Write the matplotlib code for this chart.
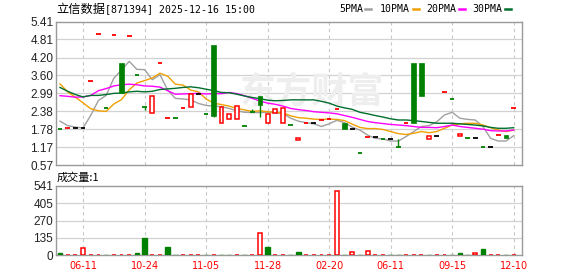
import matplotlib
matplotlib.use('Agg')
import matplotlib.pyplot as plt
from matplotlib.lines import Line2D

# ---------------- data ----------------
opens  = [1.78,1.82,1.82,1.82,3.41,5.01,2.49,4.95,4.03,4.93,
          3.60,2.52,2.32,4.03,2.16,2.16,2.49,2.52,2.96,2.29,
          4.62,1.98,2.12,2.11,1.88,2.37,2.90,1.99,2.33,2.00,
          1.91,1.42,1.98,1.98,2.08,2.12,2.46,1.98,1.79,0.96,
          1.52,1.52,1.46,1.46,1.18,1.98,4.03,4.03,1.46,1.55,
          3.04,2.79,1.55,1.47,1.47,1.17,1.17,1.57,1.58,2.50]
highs  = [1.78,1.82,1.82,1.82,3.41,5.01,2.49,4.95,4.03,4.93,
          3.60,2.52,2.89,4.03,2.16,2.16,2.49,2.96,2.96,2.29,
          4.62,2.52,2.28,2.55,1.88,2.47,2.90,2.30,2.46,2.50,
          1.91,1.48,1.98,1.98,2.08,2.12,2.46,1.98,1.79,0.96,
          1.52,1.52,1.46,1.46,1.45,1.98,4.03,4.03,1.55,1.55,
          3.04,2.79,1.61,1.47,1.47,1.17,1.17,1.57,1.58,2.50]
lows   = [1.78,1.82,1.82,1.82,3.41,5.01,2.49,4.95,2.99,4.93,
          3.60,2.44,2.32,4.03,2.16,2.16,2.49,2.52,2.96,2.29,
          2.20,1.98,2.12,2.11,1.88,2.35,2.20,1.99,2.33,2.00,
          1.91,1.42,1.98,1.98,2.08,2.12,2.46,1.80,1.79,0.96,
          1.52,1.52,1.46,1.46,1.18,1.98,2.00,2.91,1.46,1.55,
          3.04,2.79,1.55,1.47,1.47,1.17,1.17,1.57,1.49,2.50]
closes = [1.78,1.82,1.82,1.82,3.41,5.01,2.49,4.95,2.99,4.93,
          3.60,2.52,2.89,4.03,2.16,2.16,2.49,2.96,2.96,2.29,
          2.24,2.52,2.28,2.55,1.88,2.37,2.61,2.30,2.46,2.50,
          1.91,1.48,1.98,1.98,2.08,2.12,2.46,1.80,1.79,0.96,
          1.52,1.52,1.46,1.46,1.18,1.98,2.00,2.91,1.55,1.55,
          3.04,2.79,1.61,1.47,1.47,1.17,1.17,1.57,1.49,2.50]
# candle direction: 'r' up, 'g' down, 'k' unchanged
cdir = list("grkkrrgrgr" "ggrrrgrrkg" "grrrgggrrr" "grrkrrrgkg" "rkgkgrggrk" "rgrgkgkrgr")

volume = [16,2,2,52,2,2,2,2,2,2,
          16,133,2,2,63,2,2,2,2,2,
          2,2,2,2,2,2,170,63,2,2,
          2,23,2,2,2,2,502,2,21,2,
          31,2,2,2,2,2,2,2,2,2,
          2,2,16,2,16,50,2,2,2,1]
vdir = list("grrrrrgrrr" "ggrrggrrrg" "rggrgrrgrr" "ggrrrrrgrg" "rrrggrrrgr" "rgggrgrrgr")

ma5  = [2.05,1.90,1.85,1.82,2.25,2.75,2.92,3.50,3.78,4.07,
        3.80,3.79,3.45,3.62,3.10,2.82,2.80,2.77,2.65,2.58,
        2.56,2.54,2.48,2.40,2.35,2.34,2.34,2.35,2.33,2.31,
        2.15,2.05,2.00,1.96,1.87,1.96,2.08,2.00,1.85,1.75,
        1.58,1.47,1.45,1.38,1.38,1.53,1.70,1.87,1.90,2.03,
        2.26,2.35,2.15,2.11,2.09,1.87,1.47,1.38,1.38,1.56]
ma10 = [3.31,3.04,2.86,2.67,2.47,2.40,2.38,2.63,2.78,3.11,
        3.34,3.42,3.51,3.67,3.57,3.30,3.27,3.10,3.04,2.80,
        2.66,2.61,2.56,2.48,2.43,2.38,2.40,2.37,2.35,2.33,
        2.23,2.17,2.15,2.12,2.11,2.12,2.11,2.07,1.95,1.84,
        1.80,1.80,1.77,1.70,1.63,1.60,1.64,1.70,1.66,1.70,
        1.81,1.92,1.96,1.98,1.98,1.92,1.83,1.75,1.70,1.75]
ma20 = [2.91,2.89,2.86,2.87,2.92,3.08,3.15,3.24,3.28,3.30,
        3.28,3.24,3.23,3.20,3.08,2.96,2.97,2.98,2.99,2.97,
        2.98,2.98,3.02,2.98,2.91,2.82,2.73,2.66,2.62,2.56,
        2.48,2.44,2.41,2.37,2.35,2.33,2.30,2.24,2.18,2.11,
        2.04,2.00,1.97,1.94,1.92,1.90,1.87,1.84,1.84,1.83,
        1.87,1.92,1.87,1.84,1.81,1.78,1.73,1.72,1.72,1.75]
ma30 = [3.19,3.06,2.95,2.87,2.92,2.92,2.95,2.99,3.00,3.04,
        3.06,3.04,3.06,3.12,3.14,3.16,3.19,3.21,3.18,3.13,
        3.08,3.02,3.01,2.96,2.90,2.85,2.81,2.76,2.74,2.75,
        2.77,2.77,2.77,2.77,2.72,2.66,2.56,2.50,2.45,2.35,
        2.30,2.24,2.19,2.13,2.09,2.09,2.07,2.04,2.01,1.98,
        1.98,1.98,1.96,1.94,1.92,1.89,1.84,1.81,1.81,1.83]

tick_idx = [3, 11, 19, 27, 35, 43, 51, 59]
tick_labels = ['06-11', '10-24', '11-05', '11-28', '02-20', '06-11', '09-15', '12-10']
price_ticks = [0.57, 1.17, 1.78, 2.38, 2.99, 3.60, 4.20, 4.81, 5.41]
price_tick_labels = ['0.57', '1.17', '1.78', '2.38', '2.99', '3.60', '4.20', '4.81', '5.41']
vol_ticks = [0, 135, 270, 405, 541]

title_cn = '立信数据'
title_rest = '[871394] 2025-12-16 15:00'
vol_title = '成交量:1'
legend_names = ['5PMA', '10PMA', '20PMA', '30PMA']
watermark = '东方财富'

# ---------------- style ----------------
W, H = 578, 276
RED = '#ff0000'
GREEN = '#008000'
BLACK = '#000000'
cmap = {'r': RED, 'g': GREEN, 'k': BLACK}
ma_colors = ['#a0a0a0', '#f0a000', '#ff00ff', '#006f2e']
SPINE = '#999999'
GRID = '#d2d2d2'

fig = plt.figure(figsize=(W / 100, H / 100), dpi=100)
fig.patch.set_facecolor('white')

def fx(px):
    return px / W

def fy(py):
    return 1 - py / H

ax = fig.add_axes([fx(56), fy(165), fx(522) - fx(56), fy(21.7) - fy(165)])
axv = fig.add_axes([fx(56), fy(255), fx(522) - fx(56), fy(186) - fy(255)])

n = len(closes)
xs = list(range(n))
xlim = (-0.52, 60.08)
bw = 0.6

for a in (ax, axv):
    a.set_xlim(*xlim)
    for s in a.spines.values():
        s.set_color(SPINE)
        s.set_linewidth(1.0)
    a.tick_params(length=0)
    a.set_xticks(tick_idx)
    for t in tick_idx:
        a.axvline(t, color='#c8c8c8', lw=0.8, ls=(0, (3, 3)), zorder=0)

# price panel
ax.set_ylim(0.57, 5.41)
ax.set_yticks(price_ticks)
ax.set_yticklabels(price_tick_labels, fontsize=8.5, family='Liberation Sans', color='#222222')
ax.set_xticklabels([])
for v in price_ticks[1:-1]:
    ax.axhline(v, color=GRID, lw=0.9, zorder=0)
ax.tick_params(axis='y', pad=2)

ax.text(0.55, 0.51, watermark, transform=ax.transAxes, fontsize=26,
        family='Noto Sans CJK SC', color='#eeeeee', ha='center', va='center',
        zorder=0.5, fontweight='bold')

for ma, c in zip([ma5, ma10, ma20, ma30], ma_colors):
    ax.plot(xs, ma, color=c, lw=1.0, zorder=2)

for i in range(n):
    o, h, l, c, d = opens[i], highs[i], lows[i], closes[i], cdir[i]
    col = cmap[d]
    top, bot = max(o, c), min(o, c)
    if abs(o - c) < 1e-9:
        ax.hlines(o, i - bw / 2, i + bw / 2, color=col, lw=1.3, zorder=4)
        if h > o:
            ax.vlines(i, o, h, color=col, lw=1.0, zorder=4)
        if l < o:
            ax.vlines(i, l, o, color=col, lw=1.0, zorder=4)
    else:
        if h > top:
            ax.vlines(i, top, h, color=col, lw=1.0, zorder=3)
        if l < bot:
            ax.vlines(i, l, bot, color=col, lw=1.0, zorder=3)
        if d == 'r':
            ax.bar(i, top - bot, bottom=bot, width=bw - 0.1, facecolor='white',
                   edgecolor=col, lw=1.1, zorder=4)
        else:
            ax.bar(i, top - bot, bottom=bot, width=bw, facecolor=col,
                   edgecolor=col, lw=0.5, zorder=4)

# volume panel
axv.set_ylim(0, 541)
axv.set_yticks(vol_ticks)
axv.set_yticklabels([str(v) for v in vol_ticks], fontsize=8.5, family='Liberation Sans', color='#222222')
axv.tick_params(axis='y', pad=2)
axv.set_xticklabels(tick_labels, fontsize=7, family='DejaVu Sans', color=RED)
axv.tick_params(axis='x', pad=4)
for v in vol_ticks[1:-1]:
    axv.axhline(v, color=GRID, lw=0.9, zorder=0)

for i in range(n):
    col = cmap[vdir[i]]
    if vdir[i] == 'r':
        axv.bar(i, volume[i], width=bw - 0.1, facecolor='white', edgecolor=col, lw=1.1, zorder=3)
    else:
        axv.bar(i, volume[i], width=bw, facecolor=col, edgecolor=col, lw=1.0, zorder=3)

# titles
fig.text(fx(56), fy(9), title_cn, fontsize=8.8, family='Noto Sans CJK SC', va='center', ha='left')
fig.text(fx(105), fy(9.5), title_rest, fontsize=7.1, family='DejaVu Sans Mono', va='center', ha='left')
fig.text(fx(57), fy(178), vol_title, fontsize=8, family='Noto Sans CJK SC', va='center', ha='left')

# legend
leg_x = [339, 380, 426, 472]
dash_x = [365, 413, 459, 505]
for name, lx, dx, c in zip(legend_names, leg_x, dash_x, ma_colors):
    fig.text(fx(lx), fy(9.5), name, fontsize=7.1, family='DejaVu Sans Mono', va='center', ha='left')
    fig.add_artist(Line2D([fx(dx), fx(dx + 6)], [fy(9), fy(9)], color=c, lw=1.8,
                          transform=fig.transFigure))

fig.savefig('out.png', dpi=100)
